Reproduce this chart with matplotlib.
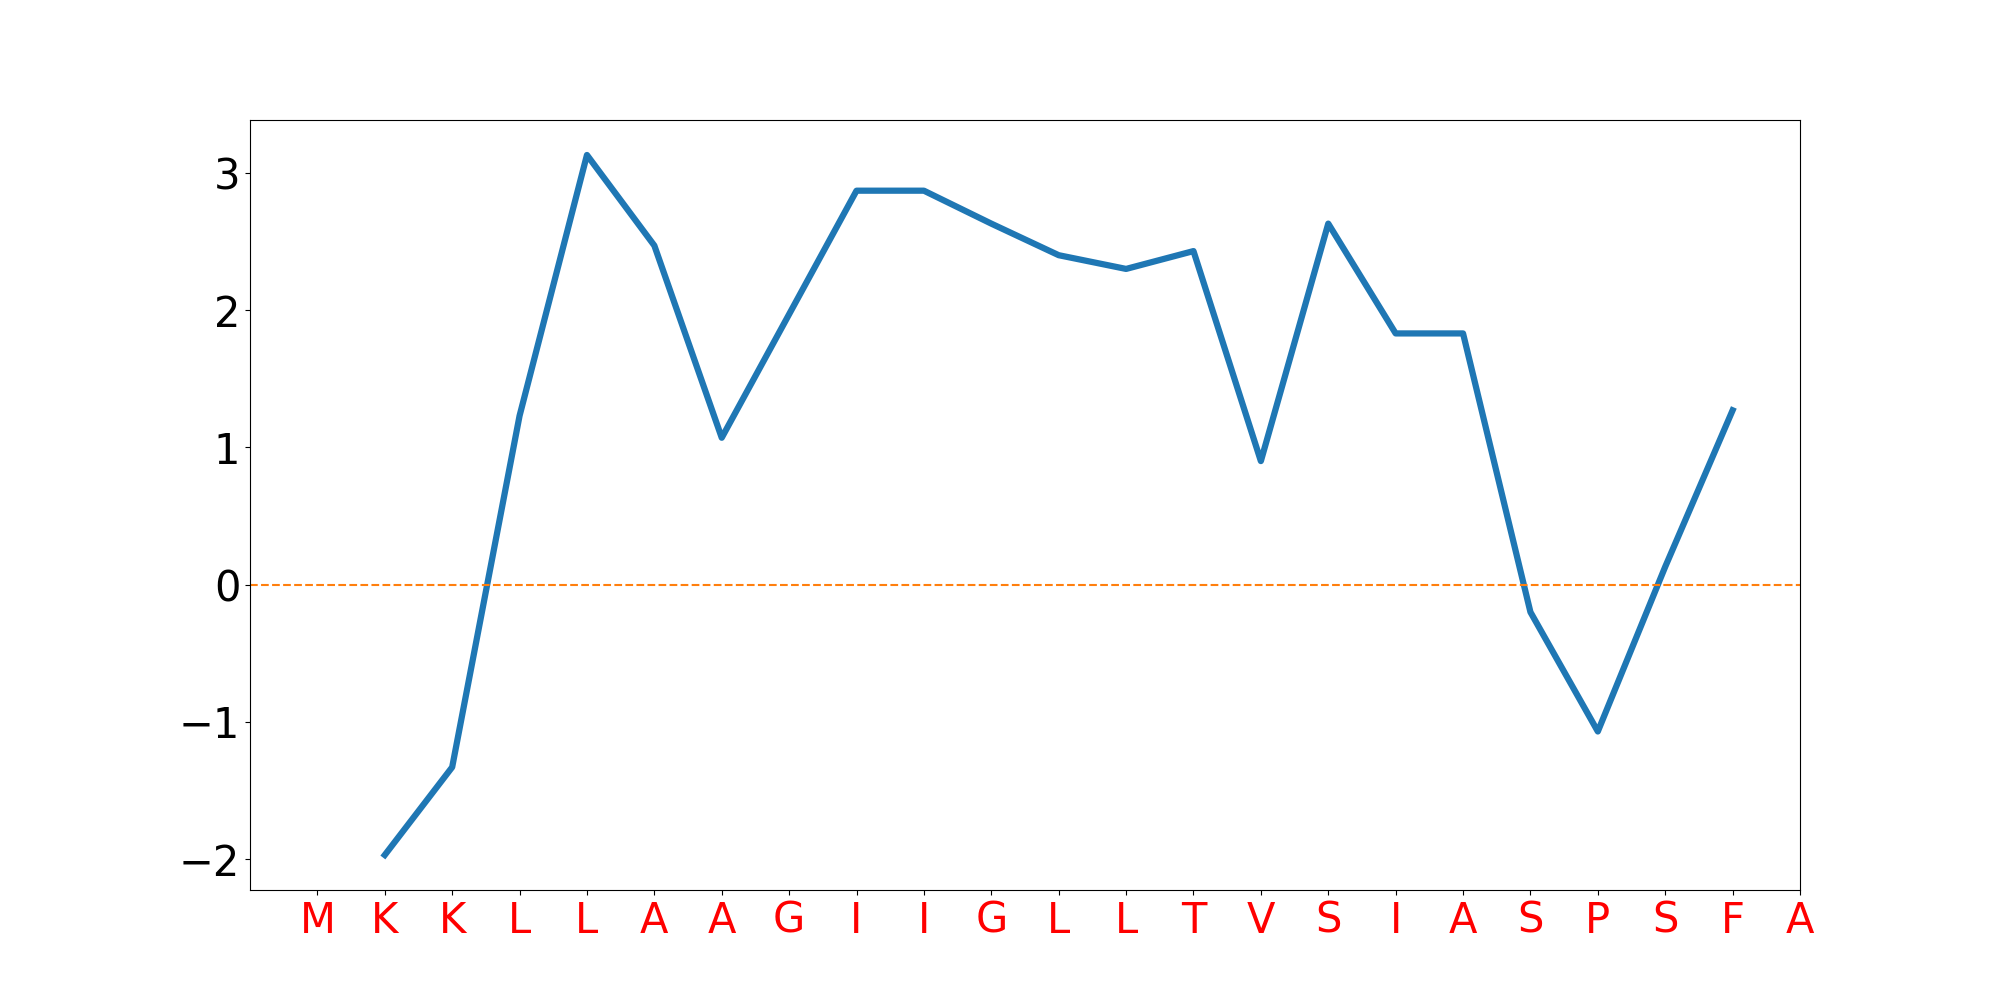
import matplotlib
matplotlib.use("Agg")
import matplotlib.pyplot as plt

sequence = list("MKKLLAAGIIGLLTVSIASPSFA")
positions = list(range(2, 23))
scores = [-1.97, -1.33, 1.23, 3.13, 2.47, 1.07, 1.97, 2.87, 2.87, 2.63, 2.40,
          2.30, 2.43, 0.90, 2.63, 1.83, 1.83, -0.20, -1.07, 0.13, 1.27]
tick_positions = list(range(1, 24))

fig, ax = plt.subplots(figsize=(20, 10), dpi=100)
ax.plot(positions, scores, color="#1f77b4", linewidth=4.5)
ax.axhline(0, color="#ff7f0e", linestyle="--", linewidth=1.5)
ax.set_xlim(0, 23)
ax.set_xticks(tick_positions)
ax.set_xticklabels(sequence, color="red", fontsize=30)
ax.set_yticks([-2, -1, 0, 1, 2, 3])
ax.tick_params(axis="y", labelsize=30)
fig.savefig("out.png")
